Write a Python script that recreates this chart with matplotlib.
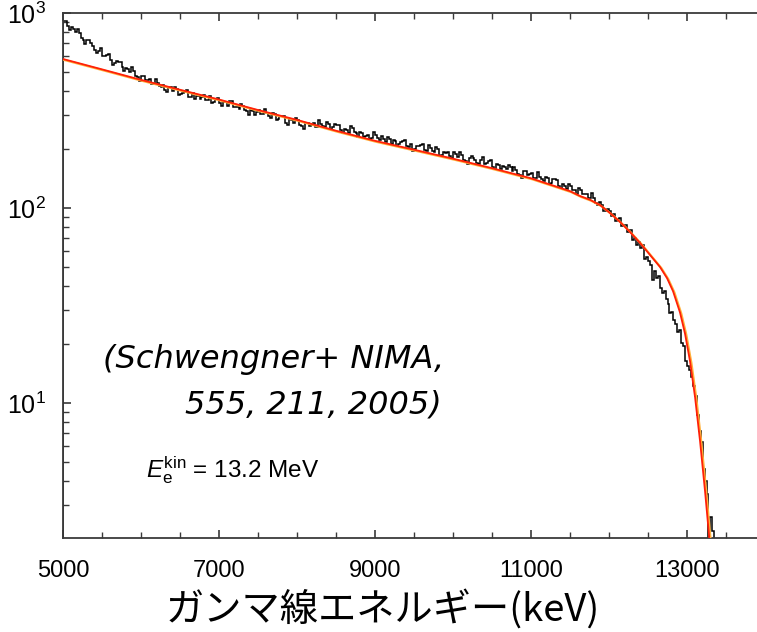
import numpy as np
import matplotlib
matplotlib.use("Agg")
import matplotlib.pyplot as plt
from matplotlib.ticker import LogLocator, MultipleLocator, LogFormatterMathtext, NullFormatter
import matplotlib.transforms as mtransforms

plt.rcParams["font.family"] = ["Liberation Sans", "DejaVu Sans"]
plt.rcParams["mathtext.fontset"] = "custom"
plt.rcParams["mathtext.rm"] = "Liberation Sans"
plt.rcParams["mathtext.it"] = "Liberation Sans:italic"

# Measured spectrum: counts per 25 keV bin, first bin starting at 5000 keV
bin_start = 5000
bin_width = 25
counts = [
    915, 914, 860, 821, 851, 831, 795, 832, 790, 745,
    731, 693, 728, 728, 700, 674, 648, 625, 640, 658,
    602, 600, 610, 614, 571, 539, 552, 567, 560, 560,
    527, 504, 522, 515, 498, 527, 505, 478, 470, 449,
    476, 473, 452, 455, 458, 432, 433, 461, 436, 423,
    418, 428, 405, 394, 416, 416, 399, 417, 410, 380,
    382, 391, 393, 401, 370, 371, 388, 363, 376, 376,
    361, 370, 379, 358, 360, 374, 345, 350, 362, 367,
    344, 333, 350, 348, 332, 352, 352, 328, 331, 329,
    320, 342, 332, 317, 315, 301, 318, 316, 301, 310,
    319, 302, 303, 323, 306, 295, 290, 308, 302, 283,
    287, 298, 298, 295, 274, 268, 285, 282, 274, 291,
    281, 267, 264, 255, 272, 273, 263, 268, 272, 259,
    261, 281, 270, 262, 259, 276, 271, 255, 260, 269,
    267, 267, 251, 243, 255, 251, 242, 262, 257, 245,
    242, 232, 246, 243, 231, 235, 238, 226, 228, 246,
    237, 228, 223, 233, 225, 219, 232, 227, 214, 224,
    220, 208, 214, 219, 220, 224, 207, 206, 213, 197,
    201, 208, 207, 210, 213, 198, 196, 211, 202, 196,
    194, 205, 200, 185, 186, 193, 192, 194, 184, 181,
    194, 190, 182, 193, 186, 177, 175, 169, 180, 184,
    181, 176, 171, 168, 176, 182, 168, 170, 175, 176,
    163, 159, 168, 166, 158, 165, 162, 158, 167, 162,
    154, 163, 156, 149, 148, 143, 154, 154, 148, 150,
    152, 143, 143, 153, 145, 140, 137, 145, 142, 133,
    135, 140, 140, 139, 130, 126, 132, 130, 125, 133,
    129, 123, 123, 118, 126, 124, 118, 118, 118, 112,
    112, 119, 112, 106, 103, 107, 103, 96, 97, 99,
    96.5, 90.6, 93.3, 86, 87.8, 88.4, 80.7, 81.5, 82.2, 74.9,
    77, 77.5, 68.7, 69.8, 64.6, 66.8, 62.6, 64.6, 55, 56.2,
    53.5, 51.2, 42.5, 47.5, 44, 44.6, 39, 36.5, 37.3, 34.2,
    32.3, 29.1, 29.2, 26.5, 25.3, 23, 23.7, 20.4, 19.6, 16.4,
    15.4, 14.8, 13.6, 12.2, 10.8, 8.7, 7.2, 6.3, 4.6, 4.0,
    3.4, 1.5, 2.6, 2.2,
]

# Fitted response curve (keV, counts)
fit_energy = [5000, 5500, 6000, 6500, 7000, 7500, 8000, 8500, 9000, 9500,
              10000, 10500, 11000, 11500, 11628, 11756, 11885, 12013, 12141,
              12269, 12397, 12526, 12654, 12744, 12821, 12910, 12974, 13039,
              13103, 13167, 13231, 13295]
fit_counts = [581, 514, 454, 404, 360, 318, 283, 249, 221, 199,
              179, 160, 142, 122, 115.2, 110.2, 103.5, 94.2, 84.8,
              75.3, 66.2, 57.4, 49.8, 43.65, 37.4, 29.1, 22.7, 16.3,
              10.7, 6.36, 3.52, 1.84]

x_ticks = [5000, 7000, 9000, 11000, 13000]

W, H = 757, 632
fig = plt.figure(figsize=(W / 100, H / 100), dpi=100)
ax = fig.add_axes([63 / W, 1 - 538 / H, 1 - 63 / W, (538 - 13) / H])

edges = bin_start + bin_width * np.arange(len(counts) + 1)
ax.stairs(counts, edges, baseline=1.0, color="black", linewidth=1.1, zorder=2)

halo = mtransforms.offset_copy(ax.transData, fig=fig, x=0.9, y=-0.7, units="points")
ax.plot(fit_energy, fit_counts, color="#ffb13b", linewidth=1.6, transform=halo, zorder=3)
ax.plot(fit_energy, fit_counts, color="#ff2008", linewidth=1.3, zorder=4)

ax.set_yscale("log")
ax.set_xlim(5000, 13897)
ax.set_ylim(2.03, 1000)

ax.set_xticks(x_ticks)
ax.xaxis.set_minor_locator(MultipleLocator(500))
ax.yaxis.set_major_locator(LogLocator(base=10))
ax.yaxis.set_major_formatter(LogFormatterMathtext())
ax.yaxis.set_minor_locator(LogLocator(base=10, subs=np.arange(2, 10)))
ax.yaxis.set_minor_formatter(NullFormatter())

for s in ("left", "bottom", "top"):
    ax.spines[s].set_color("#3a3a3a")
    ax.spines[s].set_linewidth(1.3)
ax.spines["right"].set_visible(False)

ax.tick_params(which="both", direction="in", top=True, right=False, color="#3a3a3a")
ax.tick_params(which="major", length=6, width=1.2)
ax.tick_params(which="minor", length=4, width=1.0)
ax.tick_params(axis="x", which="major", labelsize=17, pad=16)
ax.tick_params(axis="y", which="major", labelsize=18, pad=12)

# Axis title, placed in figure pixels
fig.text(383 / W, 1 - 621 / H, "ガンマ線エネルギー(keV)",
         family=["Noto Sans CJK JP", "DejaVu Sans"], fontsize=27.5,
         ha="center", va="baseline")

# Reference note and beam energy
fig.text(103 / W, 1 - 368 / H, "(Schwengner+ NIMA,", family="DejaVu Sans",
         style="italic", fontsize=23, ha="left", va="baseline")
fig.text(442 / W, 1 - 413 / H, "555, 211, 2005)", family="DejaVu Sans",
         style="italic", fontsize=23, ha="right", va="baseline")
fig.text(146 / W, 1 - 477 / H, r"$E_{\mathrm{e}}^{\mathrm{kin}}$ = 13.2 MeV",
         fontsize=17.5, ha="left", va="baseline")

fig.savefig("out.png", dpi=100)
